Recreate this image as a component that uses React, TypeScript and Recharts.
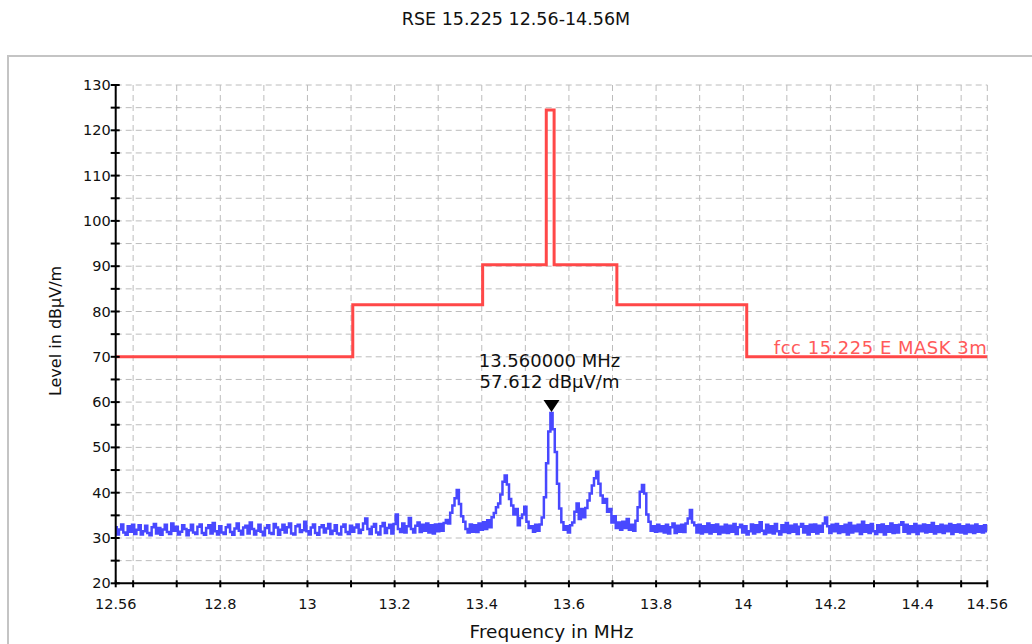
import React from "react";
import { LineChart, Line, XAxis, YAxis, CartesianGrid, ReferenceDot } from "recharts";

const TITLE = "RSE  15.225 12.56-14.56M";
const X_LABEL = "Frequency in MHz";
const Y_LABEL = "Level in dBµV/m";
const MASK_LABEL = "fcc 15.225 E MASK 3m";

const F_START = 12.56;
const F_STEP = 0.005;

// measured trace levels (dBµV/m), one per 5 kHz bin
const LEVEL_A = [
  32.4, 30.8, 31.9, 33.0, 31.2, 30.7, 32.6, 31.4, 32.9, 30.9,
  31.8, 32.8, 30.8, 31.5, 32.7, 31.1, 30.6, 32.4, 33.1, 31.0,
  32.2, 30.7, 31.9, 32.9, 31.3, 30.9, 33.2, 31.6, 32.5, 30.8,
  31.4, 32.8, 32.0, 30.6, 31.7, 32.9, 31.2, 30.9, 32.5, 33.0,
  31.1, 30.7, 32.2, 32.8, 31.0, 33.3, 31.5, 30.8, 32.6, 31.2,
  30.9, 32.4, 32.9, 31.3, 30.7, 32.1, 33.2, 31.6, 30.8, 32.3,
  32.7, 31.0, 33.4, 32.0, 30.8, 31.6, 32.9, 31.4, 30.6, 32.2,
  32.8, 31.1, 30.9, 33.1, 32.3, 30.7, 31.8, 32.9, 31.2, 32.4,
  33.2, 31.0, 30.8, 32.6, 32.9, 31.3, 31.7, 33.6, 31.5, 30.8,
  32.3, 33.0, 31.1, 30.7, 32.4, 32.8, 31.2, 32.1, 33.1, 30.9,
];
const LEVEL_B = [
  31.6, 32.8, 31.0, 30.8, 32.5, 33.0, 31.3, 30.9, 32.7, 31.4,
  32.3, 33.0, 31.1, 31.8, 33.2, 34.3, 32.0, 30.9, 32.5, 33.1,
  31.2, 30.8, 32.6, 33.3, 31.1, 32.2, 32.9, 31.0, 33.1, 35.2,
  32.0, 31.3, 33.2, 31.2, 32.6, 34.4, 32.0, 31.2, 32.7, 33.4,
];
const LEVEL_C = [
  31.3, 32.9, 31.6, 33.2, 31.2, 32.8, 31.0, 33.0, 31.5, 33.1,
  31.6, 33.3, 34.0, 33.2, 35.6, 37.2, 38.8, 40.6, 37.5, 34.8,
  33.6,
];
const LEVEL_D = [
  32.0, 31.2, 33.0, 31.4, 32.8, 31.3, 33.2, 31.8, 33.5, 32.0,
  33.9, 32.4, 34.6, 35.5, 36.8, 37.6, 39.6, 42.4, 43.8, 41.8,
  38.6, 37.2, 35.2, 36.4, 32.8, 34.4, 35.2, 36.9, 33.6, 32.2,
];
const LEVEL_E = [
  32.6, 31.4, 32.9, 31.6, 33.0, 34.5, 39.0, 46.5, 53.5, 57.612,
  54.0, 49.0, 42.0, 36.5,
];
const LEVEL_F = [
  33.5, 31.8, 32.6, 31.2, 32.8, 33.4, 35.8, 37.6, 34.2, 36.4,
  34.6, 36.6, 38.3, 39.8, 41.6, 43.2, 44.6, 42.0, 39.4, 37.8,
  38.6, 35.8, 36.4, 33.4, 34.8, 32.2, 33.4, 31.8, 33.6, 32.2,
  34.2, 31.8, 32.9, 31.6, 33.8, 36.8, 40.2, 41.7, 39.8, 35.2,
  33.6, 31.6, 32.6, 31.4, 32.9, 31.5,
];
const LEVEL_G = [
  32.6, 31.2, 32.9, 31.0, 32.4, 33.2, 31.1, 32.7, 31.4, 32.9,
  31.3, 33.2, 34.3, 36.2, 33.4, 32.8, 31.2, 32.9, 31.0, 32.6,
  31.3, 33.2, 31.0, 32.8, 31.4, 33.0, 30.9, 32.5, 31.2, 32.9,
];
const LEVEL_H = [
  31.1, 32.7, 31.4, 33.1, 30.9, 32.4, 32.9, 31.2, 32.6, 30.8,
  31.5, 33.0, 31.0, 32.8, 31.3, 33.5, 31.6, 30.9, 32.9, 31.2,
  32.6, 31.0, 33.1, 31.5, 30.8, 32.8, 31.3, 33.3, 31.1, 32.7,
  31.4, 33.0, 30.9, 32.5, 33.1, 31.2, 32.6, 30.8, 32.9, 31.4,
  33.0, 31.0, 32.7, 31.4, 33.2, 34.5, 32.6, 31.1, 32.9, 31.5,
  33.1, 31.1, 32.6, 31.3, 32.9, 30.8, 33.3, 31.2, 32.7, 31.5,
  32.9, 30.9, 33.6, 31.4, 32.8, 31.1, 33.1, 31.5, 30.9, 32.8,
  31.3, 33.0, 30.8, 32.6, 31.4, 33.2, 31.1, 32.8, 31.2, 32.9,
  33.5, 31.4, 32.9, 31.0, 32.6, 31.3, 33.1, 30.9, 32.7, 31.5,
  33.0, 31.2, 32.8, 31.4, 33.3, 31.0, 32.6, 31.3, 32.9, 31.1,
  32.7, 31.5, 33.1, 30.9, 32.8, 31.4, 33.0, 31.2, 32.6, 31.0,
  32.9, 31.3, 32.7, 31.1, 33.0, 31.4, 32.6, 31.2, 32.8, 31.5,
];
const TRACE_LEVELS = [
  ...LEVEL_A, ...LEVEL_B, ...LEVEL_C, ...LEVEL_D,
  ...LEVEL_E, ...LEVEL_F, ...LEVEL_G, ...LEVEL_H,
];

// FCC 15.225 limit mask (3 m)
const MASK_FREQS = [12.56, 13.104, 13.104, 13.402, 13.402, 13.548, 13.548, 13.566, 13.566, 13.71, 13.71, 14.008, 14.008, 14.56];
const MASK_LEVELS = [70, 70, 81.5, 81.5, 90.3, 90.3, 124.5, 124.5, 90.3, 90.3, 81.5, 81.5, 70, 70];

const X_TICKS = [12.56, 12.6, 12.7, 12.8, 12.9, 13, 13.1, 13.2, 13.3, 13.4, 13.5, 13.6, 13.7, 13.8, 13.9, 14, 14.1, 14.2, 14.3, 14.4, 14.5, 14.56];
const X_TICK_LABELS = [12.56, 12.8, 13, 13.2, 13.4, 13.6, 13.8, 14, 14.2, 14.4, 14.56];
const Y_TICKS = [20, 25, 30, 35, 40, 45, 50, 55, 60, 65, 70, 75, 80, 85, 90, 95, 100, 105, 110, 115, 120, 125, 130];
const Y_TICK_LABELS = [20, 30, 40, 50, 60, 70, 80, 90, 100, 110, 120, 130];

const MARKER_FREQ = 13.56;
const MARKER_LEVEL = 57.612;

const traceData = TRACE_LEVELS.map((v, i) => ({ f: Math.round((F_START + i * F_STEP) * 1000) / 1000, v }));
const maskData = MASK_FREQS.map((f, i) => ({ f, v: MASK_LEVELS[i] }));

const FONT = "'DejaVu Sans', Verdana, sans-serif";

const XTick = (props: any) => {
  const { x, y, payload } = props;
  const v = payload.value;
  return (
    <g>
      <line x1={x} x2={x} y1={y - 3} y2={y + 4} stroke="#000" strokeWidth={2} />
      {X_TICK_LABELS.includes(v) && (
        <text x={x} y={y + 26} textAnchor="middle" fontSize={14.5} fontFamily={FONT} fill="#111">
          {String(v)}
        </text>
      )}
    </g>
  );
};

const YTick = (props: any) => {
  const { x, y, payload } = props;
  const v = payload.value;
  return (
    <g>
      <line x1={x - 5} x2={x + 4} y1={y} y2={y} stroke="#000" strokeWidth={2} />
      {Y_TICK_LABELS.includes(v) && (
        <text x={x - 5} y={y + 5} textAnchor="end" fontSize={14.5} fontFamily={FONT} fill="#111">
          {String(v)}
        </text>
      )}
    </g>
  );
};

const MarkerShape = (p: any) => {
  const { cx, cy } = p;
  return (
    <g>
      <polygon points={`${cx - 8},${cy - 13} ${cx + 8},${cy - 13} ${cx},${cy - 1}`} fill="#000" />
      <text x={cx - 2} y={cy - 46} textAnchor="middle" fontSize={18} fontFamily={FONT} fill="#111">
        {`${MARKER_FREQ.toFixed(6)} MHz`}
      </text>
      <text x={cx - 2} y={cy - 25} textAnchor="middle" fontSize={18} fontFamily={FONT} fill="#111">
        {`${MARKER_LEVEL.toFixed(3)} dBµV/m`}
      </text>
    </g>
  );
};

const MaskLabelShape = (p: any) => {
  const { cx, cy } = p;
  return (
    <text x={cx} y={cy - 3} textAnchor="end" fontSize={18} fontFamily={FONT} fill="#ff5a5a" letterSpacing={0.5}>
      {MASK_LABEL}
    </text>
  );
};

export default function App() {
  return (
    <div style={{ position: "relative", width: 1032, height: 644, overflow: "hidden", background: "#fff" }}>
      <style>{"body{margin:0;overflow:hidden;background:#fff}"}</style>
      <div
        style={{
          position: "absolute",
          left: 7,
          top: 55,
          width: 1100,
          height: 700,
          border: "2px solid #c4c4c4",
          boxSizing: "border-box",
        }}
      />
      <div style={{ position: "absolute", left: 0, top: 0 }}>
        <LineChart width={1032} height={644} margin={{ top: 85, right: 44.7, bottom: 30.7, left: 85.7 }}>
          <CartesianGrid stroke="#bcbcbc" strokeDasharray="6 4" strokeWidth={1} />
          <XAxis
            dataKey="f"
            type="number"
            domain={[12.56, 14.56]}
            ticks={X_TICKS}
            interval={0}
            allowDataOverflow
            height={30}
            tickSize={0}
            tickMargin={0}
            tickLine={false}
            axisLine={{ stroke: "#000", strokeWidth: 2 }}
            tick={(p: any) => <XTick {...p} />}
          />
          <YAxis
            type="number"
            domain={[20, 130]}
            ticks={Y_TICKS}
            interval={0}
            allowDataOverflow
            width={30}
            tickSize={0}
            tickMargin={0}
            tickLine={false}
            axisLine={{ stroke: "#000", strokeWidth: 2 }}
            tick={(p: any) => <YTick {...p} />}
          />
          <Line
            data={maskData}
            dataKey="v"
            type="linear"
            stroke="#ff4848"
            strokeWidth={3}
            dot={false}
            isAnimationActive={false}
          />
          <Line
            data={traceData}
            dataKey="v"
            type="step"
            stroke="#4848ff"
            strokeWidth={2.5}
            dot={false}
            isAnimationActive={false}
          />
          <ReferenceDot x={MARKER_FREQ} y={MARKER_LEVEL} r={0} ifOverflow="visible" shape={(p: any) => <MarkerShape {...p} />} />
          <ReferenceDot x={14.56} y={70} r={0} ifOverflow="visible" shape={(p: any) => <MaskLabelShape {...p} />} />
        </LineChart>
      </div>
      <svg
        width={1032}
        height={644}
        style={{ position: "absolute", left: 0, top: 0, pointerEvents: "none" }}
      >
        <text x={516} y={25} textAnchor="middle" fontSize={17.5} fontFamily={FONT} fill="#111">
          {TITLE}
        </text>
        <text x={551.5} y={638} textAnchor="middle" fontSize={18.5} fontFamily={FONT} fill="#111">
          {X_LABEL}
        </text>
        <text
          x={61}
          y={331}
          textAnchor="middle"
          fontSize={16}
          fontFamily={FONT}
          fill="#111"
          transform="rotate(-90, 61, 331)"
        >
          {Y_LABEL}
        </text>
      </svg>
    </div>
  );
}
